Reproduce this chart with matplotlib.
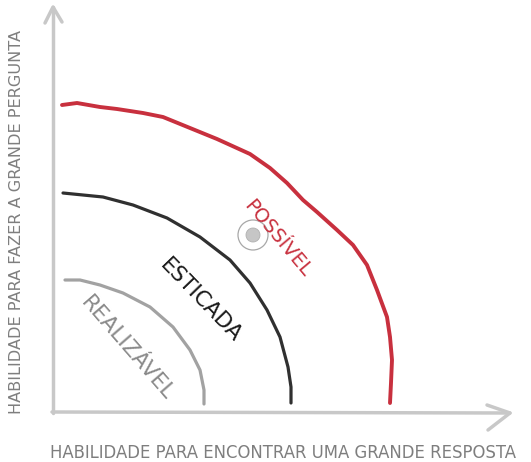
import numpy as np
import matplotlib.pyplot as plt

# curves (origin at the axes corner, pixel units)
possivel_x = [9, 24, 47, 64, 90, 110, 137, 164, 197, 217, 234, 250, 264, 284,
              300, 314, 324, 334, 337, 339, 338, 337]
possivel_y = [307, 309, 305, 303, 299, 295, 284, 273, 258, 244, 229, 212, 200, 182,
              167, 147, 122, 95, 75, 52, 29, 9]
esticada_x = [10, 30, 50, 80, 114, 147, 177, 197, 214, 227, 235, 238, 238]
esticada_y = [219, 217, 215, 207, 194, 175, 152, 129, 102, 75, 45, 25, 9]
realizavel_x = [12, 27, 47, 70, 97, 120, 137, 147, 151, 151]
realizavel_y = [132, 132, 127, 119, 105, 85, 62, 42, 22, 8]
alvo = (200, 177)

x_label = 'HABILIDADE PARA ENCONTRAR UMA GRANDE RESPOSTA'
y_label = 'HABILIDADE PARA FAZER A GRANDE PERGUNTA'

fig = plt.figure(figsize=(5.31, 4.62), dpi=100)
ax = fig.add_axes([0, 0, 1, 1])
ax.set_xlim(-53, 478)
ax.set_ylim(-50, 412)
ax.axis('off')

axis_col = '#c8c8c8'
sk = dict(solid_capstyle='round', solid_joinstyle='round')

# hand drawn axes with arrows
ax.plot([0, 0], [-1, 405], color=axis_col, lw=2.5, **sk)
ax.plot([-8, 0, 9], [389, 405, 390], color=axis_col, lw=2.5, **sk)
ax.plot([-1, 457], [0, -1], color=axis_col, lw=2.5, **sk)
ax.plot([434, 457, 435], [7, -1, -18], color=axis_col, lw=2.5, **sk)

ax.plot(realizavel_x, realizavel_y, color='#a2a2a2', lw=2.3, **sk)
ax.plot(esticada_x, esticada_y, color='#303030', lw=2.3, **sk)
ax.plot(possivel_x, possivel_y, color='#c8303e', lw=2.8, **sk)

# target
ax.add_patch(plt.Circle(alvo, 15, fill=False, ec='#a8a8a8', lw=0.9))
ax.add_patch(plt.Circle(alvo, 7, fc='#c6c6c6', ec='#b0b0b0', lw=0.6))

ax.text(225, 174, 'POSSÍVEL', color='#c8303e', fontsize=14, rotation=-50,
        ha='center', va='center', rotation_mode='anchor')
ax.text(148, 112, 'ESTICADA', color='#1a1a1a', fontsize=15.5, rotation=-46,
        ha='center', va='center', rotation_mode='anchor')
ax.text(74, 64, 'REALIZÁVEL', color='#8a8a8a', fontsize=15.5, rotation=-49,
        ha='center', va='center', rotation_mode='anchor')

ax.text(230, -41, x_label, color='#7e7e7e', fontsize=11.9, ha='center', va='center')
ax.text(-36, 190, y_label, color='#7e7e7e', fontsize=11.6, rotation=90,
        ha='center', va='center')

fig.savefig('out.png', dpi=100)
